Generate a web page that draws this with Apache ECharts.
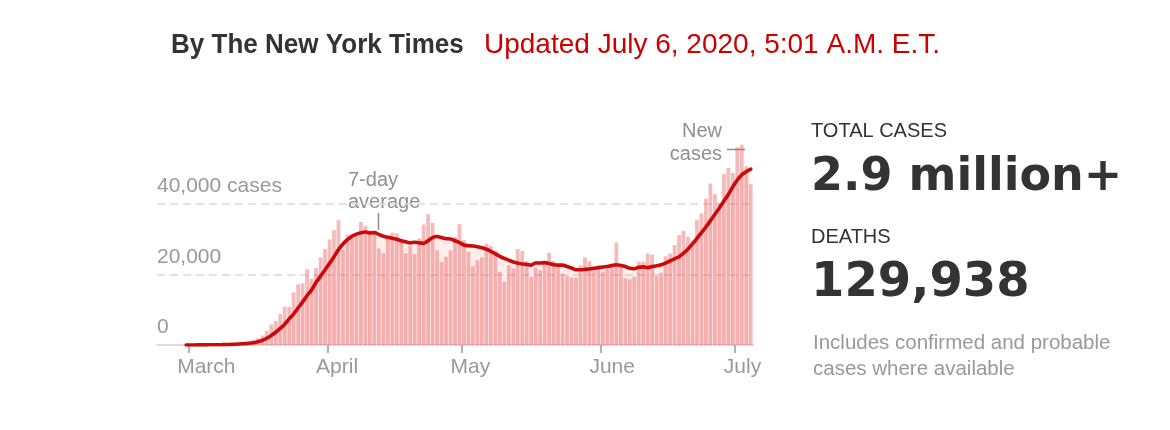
<!DOCTYPE html>
<html>
<head>
<meta charset="utf-8">
<title>Coronavirus in the U.S.</title>
<script src="https://cdn.jsdelivr.net/npm/echarts@6/dist/echarts.min.js"></script>
<style>
  html, body { margin: 0; padding: 0; background: #fff; }
  #chart { width: 1170px; height: 430px; }
</style>
</head>
<body>
<div id="chart"></div>
<script>
// one bar per day, Feb 23 to Jul 4 2020
const firstDay = [2020, 1, 23]
const dayCount = 133

// new cases per day, starting Feb 23
const newCases = [
  2, 3, 4, 5, 8, 10, 15,
  20, 25, 30, 70, 70, 110, 120, 190, 290, 420, 490, 650, 700, 950, 1400, 1900,
  2700, 4000, 5800, 6800, 8800, 10800, 10800, 14900, 17200, 17500, 21400, 18800, 21800, 24800, 27200, 29900, 32500, 35300,
  27000, 31200, 31100, 31700, 34800, 33700, 32400, 32300, 27300, 26000, 30500, 31800, 31600, 29200, 26000, 28000, 25800,
  30200, 34100, 37000, 34600, 26800, 23500, 25000, 26800, 30600, 34200, 29700, 26400, 22300, 24000, 24800, 28700, 28000, 26800, 20700, 17900, 22600, 21700,
  27200, 26600, 23800, 19300, 21900, 21200, 22900, 26100, 23800, 22100, 20200, 19500, 19100, 19100, 22600, 24800, 23700, 21200, 21700,
  20800, 21500, 22000, 29000, 22000, 18900, 18600, 19300, 23600, 23600, 25900, 25600, 19500, 20400, 25100, 25900, 28300, 31100, 32300, 30600,
  29500, 35300, 37200, 41400, 45700, 42700, 40200, 48500, 50100, 48700, 56000, 56700, 50600, 45500
]

// 7-day average, starting Feb 23 (the line begins Feb 29)
const weekAverage = [
  null, null, null, null, null, null, 10,
  20, 20, 30, 40, 50, 60, 80, 100, 130, 170, 220, 300, 380, 480, 650, 900,
  1300, 1900, 2700, 3600, 4700, 5900, 7400, 8800, 10500, 12200, 14000, 15600, 17700, 19500, 21300, 23100, 25000, 27000,
  28600, 29800, 30800, 31400, 31800, 32000, 31700, 31800, 31300, 30800, 30500, 30200, 29900, 29500, 29200, 28900, 29100,
  28900, 28800, 29500, 30400, 30700, 30400, 30100, 30000, 29500, 29000, 28300, 28100, 28000, 27800, 27500, 27100, 26500, 25800, 25100, 24500, 24000, 23500,
  23200, 22900, 22800, 22600, 23200, 23200, 23300, 23100, 22700, 22600, 22600, 22200, 21800, 21300, 21300, 21400, 21500, 21700, 21900,
  22100, 22200, 22500, 22700, 22500, 22200, 21700, 21600, 22000, 22100, 21900, 22200, 22400, 22700, 23200, 23800, 24400, 25000, 26000, 27200,
  28600, 30200, 31800, 33400, 35200, 37000, 38800, 40700, 42600, 44800, 46700, 48200, 49100, 49800
]

const monthNames = ['January', 'February', 'March', 'April', 'May', 'June', 'July']
const yMax = 60000
const yStep = 20000

const categories = []
const monthStarts = []
for (let i = 0; i < dayCount; i++) {
  const d = new Date(Date.UTC(firstDay[0], firstDay[1], firstDay[2] + i))
  categories.push(d.toISOString().slice(0, 10))
  if (d.getUTCDate() === 1) monthStarts.push(i)
}
// month names sit a little left of their tick
const labelShift = 2.5
const monthLabel = function (v) {
  const idx = Math.round(v + labelShift)
  return monthNames[new Date(categories[idx]).getUTCMonth()]
}

const gray = '#999'
const noteGray = '#8f8f8f'
const font = '"Liberation Sans", Arial, sans-serif'

const chart = echarts.init(document.getElementById('chart'))
chart.setOption({
  animation: false,
  backgroundColor: '#fff',
  textStyle: { fontFamily: font },
  grid: { left: 157, right: 417, top: 133, bottom: 85 },
  xAxis: [
    {
      type: 'category',
      data: categories,
      boundaryGap: true,
      axisLine: { lineStyle: { color: '#dcdcdc', width: 2 } },
      axisTick: { show: false },
      axisLabel: { show: false }
    },
    {
      type: 'value',
      min: 0,
      max: dayCount,
      position: 'bottom',
      axisLine: { show: false },
      splitLine: { show: false },
      axisTick: {
        show: true,
        customValues: monthStarts,
        length: 8,
        lineStyle: { color: gray, width: 1.5 }
      },
      axisLabel: {
        customValues: monthStarts.map(v => v - labelShift),
        align: 'left',
        margin: 12,
        color: gray,
        fontSize: 21,
        formatter: monthLabel
      }
    }
  ],
  yAxis: {
    type: 'value',
    min: 0,
    max: yMax,
    interval: yStep,
    axisLine: { show: false },
    axisTick: { show: false },
    splitLine: {
      showMinLine: false,
      showMaxLine: false,
      lineStyle: { color: '#dadada', type: [8, 5], width: 1.5 }
    },
    axisLabel: {
      inside: true,
      margin: 0,
      align: 'left',
      verticalAlign: 'bottom',
      padding: [0, 0, 7, 0],
      color: gray,
      fontSize: 21,
      formatter: function (v) {
        if (v >= yMax) return ''
        if (v === 40000) return '40,000 cases'
        return v.toLocaleString('en-US')
      }
    }
  },
  series: [
    {
      name: 'shade',
      type: 'line',
      data: weekAverage,
      smooth: 0.3,
      symbol: 'none',
      silent: true,
      lineStyle: { width: 0 },
      areaStyle: { color: 'rgba(240,90,90,0.15)' },
      z: 1
    },
    {
      name: 'New cases',
      type: 'bar',
      data: newCases,
      barCategoryGap: '16%',
      itemStyle: { color: 'rgba(235,80,80,0.4)' },
      z: 2
    },
    {
      name: '7-day average',
      type: 'line',
      data: weekAverage,
      smooth: 0.3,
      symbol: 'none',
      lineStyle: { color: '#cc0a0a', width: 3.6, cap: 'round' },
      z: 3
    }
  ],
  graphic: [
    { type: 'text', x: 171, y: 45, scaleX: 0.93, style: { text: 'By The New York Times', font: 'bold 28px ' + font, fill: '#333', verticalAlign: 'middle' } },
    { type: 'text', x: 484, y: 45, style: { text: 'Updated July 6, 2020, 5:01 A.M. E.T.', font: '28px ' + font, fill: '#cc0000', verticalAlign: 'middle' } },

    { type: 'text', x: 348, y: 180, style: { text: '7-day', font: '20px ' + font, fill: noteGray, verticalAlign: 'middle' } },
    { type: 'text', x: 348, y: 202, style: { text: 'average', font: '20px ' + font, fill: noteGray, verticalAlign: 'middle' } },
    { type: 'line', shape: { x1: 378.5, y1: 213, x2: 378.5, y2: 230 }, style: { stroke: noteGray, lineWidth: 1.5 } },

    { type: 'text', x: 722, y: 131, style: { text: 'New', font: '20px ' + font, fill: noteGray, align: 'right', verticalAlign: 'middle' } },
    { type: 'text', x: 722, y: 154, style: { text: 'cases', font: '20px ' + font, fill: noteGray, align: 'right', verticalAlign: 'middle' } },
    { type: 'line', shape: { x1: 727, y1: 149.5, x2: 745, y2: 149.5 }, style: { stroke: noteGray, lineWidth: 1.5 } },

    { type: 'text', x: 811, y: 131, style: { text: 'TOTAL CASES', font: '20px ' + font, fill: '#333', verticalAlign: 'middle' } },
    { type: 'text', x: 811, y: 178, style: { text: '2.9 million+', font: 'bold 46px "DejaVu Sans", sans-serif', fill: '#333', verticalAlign: 'middle' } },
    { type: 'text', x: 811, y: 237, style: { text: 'DEATHS', font: '20px ' + font, fill: '#333', verticalAlign: 'middle' } },
    { type: 'text', x: 811, y: 284, style: { text: '129,938', font: 'bold 48px "DejaVu Sans", sans-serif', fill: '#333', verticalAlign: 'middle' } },
    { type: 'text', x: 813, y: 343, style: { text: 'Includes confirmed and probable', font: '20.5px ' + font, fill: gray, verticalAlign: 'middle' } },
    { type: 'text', x: 813, y: 369, style: { text: 'cases where available', font: '20.5px ' + font, fill: gray, verticalAlign: 'middle' } }
  ]
})
</script>
</body>
</html>
